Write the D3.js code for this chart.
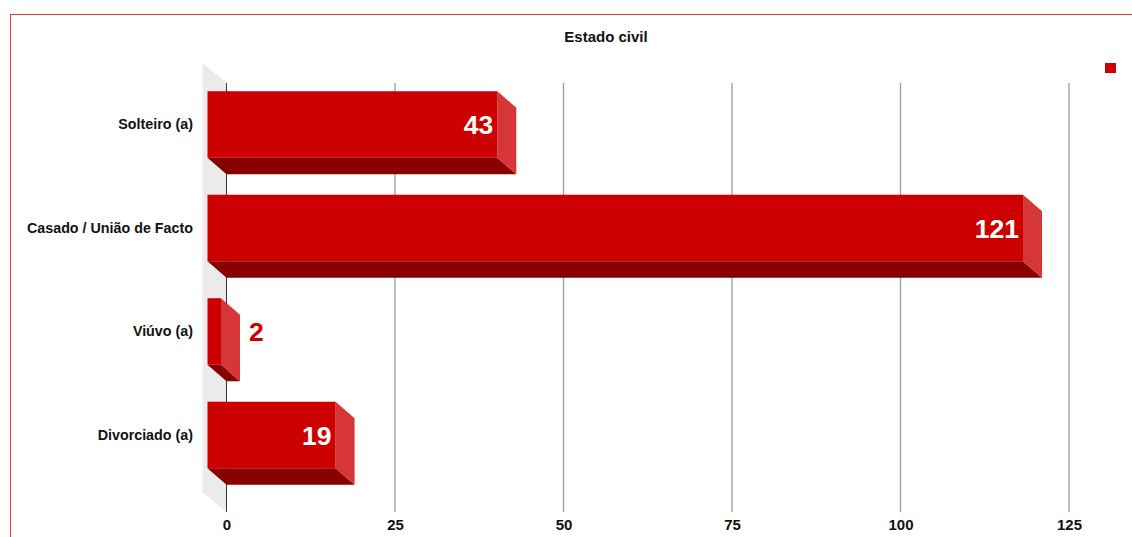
<!DOCTYPE html>
<html>
<head>
<meta charset="utf-8">
<script src="https://cdn.jsdelivr.net/npm/d3@7"></script>
<style>
  html, body { margin: 0; padding: 0; background: #fff; }
  svg { display: block; font-family: "Liberation Sans", Arial, sans-serif; }
</style>
</head>
<body>
<svg id="chart" width="1132" height="537"></svg>
<script>
const categories = ["Solteiro (a)", "Casado / União de Facto", "Viúvo (a)", "Divorciado (a)"];
const values = [43, 121, 2, 19];
const tickValues = [0, 25, 50, 75, 100, 125];
const title = "Estado civil";

const svg = d3.select("#chart");
const W = 1132, H = 537;

// depth offset (front face is shifted up-left from the back plane)
const dX = 19, dY = 16.5;

const x = d3.scaleLinear().domain([0, 125]).range([226.5, 1069]);
const y = d3.scaleBand().domain(categories).range([89.25, 503.25])
  .paddingInner(0.357).paddingOuter(0.1785);

const gridTop = 83, gridBottom = 512;

// outer border
svg.append("rect").attr("x", 10.5).attr("y", 14.5).attr("width", W).attr("height", H)
  .attr("fill", "none").attr("stroke", "#e23b3b").attr("stroke-width", 1);

// title
svg.append("text").attr("x", 606).attr("y", 42).attr("text-anchor", "middle")
  .attr("font-size", 15).attr("font-weight", "bold").attr("fill", "#111").text(title);

// legend marker
svg.append("rect").attr("x", 1105).attr("y", 63).attr("width", 11).attr("height", 10)
  .attr("fill", "#cc0000");

// left wall
const x0 = x(0);
svg.append("path")
  .attr("d", `M${x0 - 24},${gridTop - 20} L${x0},${gridTop} L${x0},${gridBottom} L${x0 - 24},${gridBottom - 20} Z`)
  .attr("fill", "#ebebeb");

// grid lines
svg.append("g").selectAll("line").data(tickValues).join("line")
  .attr("x1", d => x(d)).attr("x2", d => x(d))
  .attr("y1", gridTop).attr("y2", gridBottom)
  .attr("stroke", d => d === 0 ? "#333" : "#8da88a")
  .attr("stroke-width", d => d === 0 ? 1 : 1.3);

// x axis tick labels
const xAxis = d3.axisBottom(x).tickValues(tickValues).tickSize(0).tickPadding(0).tickFormat(d3.format("d"));
const gx = svg.append("g").attr("transform", `translate(0,${gridBottom + 18})`).call(xAxis);
gx.select(".domain").remove();
gx.selectAll("text").attr("font-size", 15).attr("font-weight", "bold").attr("fill", "#111")
  .attr("font-family", "'Liberation Sans', Arial, sans-serif").attr("dy", "0");

// y axis labels
const yAxis = d3.axisLeft(y).tickSize(0).tickPadding(0);
const gy = svg.append("g").attr("transform", `translate(193,${-dY})`).call(yAxis);
gy.select(".domain").remove();
gy.selectAll("text").attr("font-size", 14.3).attr("font-weight", "bold").attr("fill", "#111")
  .attr("font-family", "'Liberation Sans', Arial, sans-serif");

// bars
const data = categories.map((c, i) => ({ cat: c, v: values[i] }));
const bars = svg.append("g").selectAll("g").data(data).join("g");

bars.each(function (d) {
  const g = d3.select(this);
  const bx0 = x(0), bx1 = x(d.v);          // back plane
  const by0 = y(d.cat), by1 = y(d.cat) + y.bandwidth();
  const fx0 = bx0 - dX, fx1 = bx1 - dX;    // front plane
  const fy0 = by0 - dY, fy1 = by1 - dY;
  // bottom face
  g.append("path")
    .attr("d", `M${fx0},${fy1} L${fx1},${fy1} L${bx1},${by1} L${bx0},${by1} Z`)
    .attr("fill", "#880000");
  // right side face
  g.append("path")
    .attr("d", `M${fx1},${fy0} L${bx1},${by0} L${bx1},${by1} L${fx1},${fy1} Z`)
    .attr("fill", "#d63636");
  // front face
  g.append("rect").attr("x", fx0).attr("y", fy0).attr("width", fx1 - fx0).attr("height", fy1 - fy0)
    .attr("fill", "#cc0000");
  // value label
  const inside = (fx1 - fx0) > 60;
  g.append("text")
    .attr("x", inside ? fx1 - 4 : bx1 + 9)
    .attr("y", (fy0 + fy1) / 2)
    .attr("dy", "0.36em")
    .attr("text-anchor", inside ? "end" : "start")
    .attr("font-size", 26.5).attr("font-weight", "bold")
    .attr("fill", inside ? "#fff" : "#cc0000")
    .text(d.v);
});
</script>
</body>
</html>
